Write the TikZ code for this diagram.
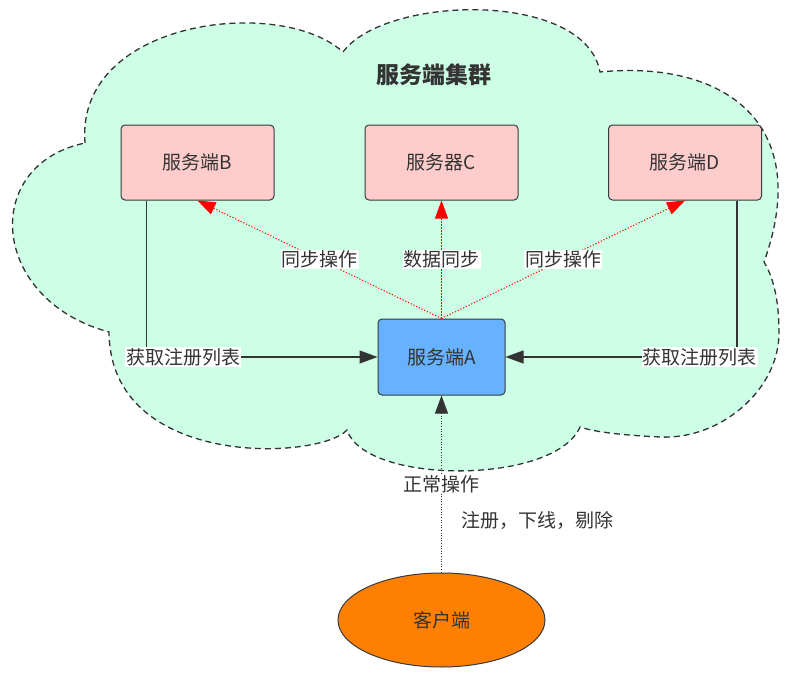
\documentclass[tikz,border=0pt]{standalone}
\usepackage{fontspec}
\setmainfont{Noto Sans CJK SC}
\usetikzlibrary{arrows.meta,shapes.geometric}
\definecolor{cloudfill}{HTML}{CCFFE6}
\definecolor{pinkfill}{HTML}{FFCCCC}
\definecolor{bluefill}{HTML}{66B2FF}
\definecolor{orangefill}{HTML}{FF8000}
\definecolor{ink}{HTML}{333333}
\definecolor{edgec}{HTML}{36393D}
\begin{document}
\begin{tikzpicture}[x=1pt,y=-1pt,
  txt/.style={font=\fontsize{19}{22}\selectfont, text=ink},
  server/.style={txt, draw=edgec, line width=1pt, rounded corners=4pt, fill=pinkfill, minimum width=153pt, minimum height=75pt},
  mainsrv/.style={txt, draw=edgec, line width=1pt, rounded corners=4pt, fill=bluefill, minimum width=127pt, minimum height=76pt},
  clientnode/.style={txt, ellipse, draw=edgec, line width=1pt, fill=orangefill, minimum width=207pt, minimum height=94pt, inner sep=0pt},
  cloudshape/.style={draw=ink, fill=cloudfill, line width=1.3pt, dash pattern=on 6pt off 4pt},
  lbl/.style={txt, fill=white, inner sep=1pt},
  syncline/.style={draw=red, line width=1pt, dash pattern=on 1.2pt off 1.8pt, -{Triangle[length=18pt,width=13pt,fill=red]}},
  getlist/.style={draw=ink, line width=1.2pt, -{Triangle[length=18pt,width=13pt]}},
  opline/.style={draw=ink, line width=0.9pt, dash pattern=on 1pt off 1.6pt, -{Triangle[length=18pt,width=13pt]}}
]
\useasboundingbox (0,0) rectangle (804,677);
% cloud
\path[cloudshape] (85,143) .. controls (75,20) and (280,-5) .. (343,52)
  .. controls (385,-5) and (585,-10) .. (600,72)
  .. controls (720,60) and (815,120) .. (764,262)
  .. controls (775,280) and (779,305) .. (779,333)
  .. controls (779,390) and (720,440) .. (660,437)
  .. controls (620,435) and (595,432) .. (580,427)
  .. controls (555,485) and (365,485) .. (347,430)
  .. controls (320,460) and (110,470) .. (109,332)
  .. controls (-10,300) and (-20,165) .. (85,143) -- cycle;
\node[txt, font=\fontsize{23}{26}\selectfont\bfseries] (title) at (434,75) {服务端集群};
% servers
\node[server] (B) at (197.5,162.5) {服务端B};
\node[server] (C) at (441.5,162.5) {服务器C};
\node[server] (D) at (685,162.5) {服务端D};
\node[mainsrv] (A) at (441.5,357) {服务端A};
\node[clientnode] (client) at (441.5,620) {客户端};
% sync lines
\draw[syncline] (A.north) -- node[lbl] {同步操作} (B.south);
\draw[syncline] (A.north) -- node[lbl] {数据同步} (C.south);
\draw[syncline] (A.north) -- node[lbl] {同步操作} (D.south);
% register list
\draw[getlist] ([xshift=26pt]B.south west) |- node[lbl, pos=0.58] {获取注册列表} (A.west);
\draw[getlist] ([xshift=-25pt]D.south east) |- node[lbl, pos=0.581] {获取注册列表} (A.east);
% client
\draw[opline] (client.north) -- node[lbl] {正常操作} (A.south);
\node[txt] (ops) at (537,520) {注册，下线，剔除};
\end{tikzpicture}
\end{document}
